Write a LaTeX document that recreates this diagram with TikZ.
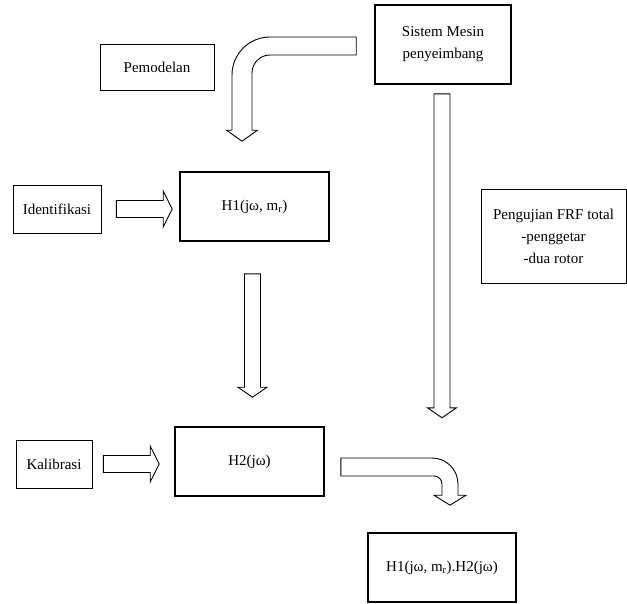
\documentclass[tikz,border=0pt]{standalone}
\usepackage{fontspec}
\setmainfont{Liberation Serif}
\usetikzlibrary{calc}

% hollow block arrows: start of shaft, tip
\newcommand{\hblock}[2]{%
  \draw[blk] let \p1=(#1), \p2=(#2) in
    (\x1,\y1+8.5pt) -- (\x2-9pt,\y1+8.5pt) -- (\x2-9pt,\y1+18pt) -- (\x2,\y1)
    -- (\x2-9pt,\y1-18pt) -- (\x2-9pt,\y1-8.5pt) -- (\x1,\y1-8.5pt) -- cycle;}
\newcommand{\vblock}[2]{%
  \draw[blk] let \p1=(#1), \p2=(#2) in
    (\x1-8pt,\y1) -- (\x1-8pt,\y2+10pt) -- (\x1-14.5pt,\y2+10pt) -- (\x1,\y2)
    -- (\x1+14.5pt,\y2+10pt) -- (\x1+8pt,\y2+10pt) -- (\x1+8pt,\y1) -- cycle;}

\begin{document}
\begin{tikzpicture}[x=1pt, y=-1pt,
    box/.style={rectangle, draw, line width=0.8pt, align=center, inner sep=0pt, font=\fontsize{15}{22}\selectfont},
    thickbox/.style={box, line width=1.6pt},
    blk/.style={draw, line width=0.9pt, fill=white, line join=miter}
]
\useasboundingbox (0,0) rectangle (627,603);

% Boxes
\node[box, minimum width=114pt, minimum height=46pt] (pemo) at (157,67) {Pemodelan};
\node[thickbox, minimum width=136pt, minimum height=79pt] (sist) at (443,44.5) {Sistem Mesin\\penyeimbang};
\node[box, minimum width=88pt, minimum height=48pt] (idf) at (57,209) {Identifikasi};
\node[thickbox, minimum width=149pt, minimum height=69pt] (h1) at (254.5,206.5) {H1(jω, m\textsubscript{r})};
\node[box, minimum width=145pt, minimum height=94pt] (peng) at (553.5,236) {Pengujian FRF total\\-penggetar\\-dua rotor};
\node[box, minimum width=76pt, minimum height=48pt] (kal) at (54,464) {Kalibrasi};
\node[thickbox, minimum width=149pt, minimum height=69pt] (h2) at (249.5,461.5) {H2(jω)};
\node[thickbox, minimum width=148pt, minimum height=69pt] (fin) at (442,567.5) {H1(jω, m\textsubscript{r}).H2(jω)};

% Straight arrows
\hblock{$(idf.east)+(15,0)$}{$(h1.west)+(-7,0)$}
\hblock{$(kal.east)+(11,0)$}{$(h2.west)+(-15,0)$}
\vblock{$(h1.south)+(-2,32)$}{$(h2.north)+(0,-29)$}
\coordinate (s1) at ($(sist.south)+(-1,9)$);
\vblock{s1}{$(s1)+(0,324)$}

% Bent arrows
\draw[blk] let \p1=($(sist.west)+(-18,1.5)$), \p2=($(h1.north)+(-12.5,-30)$) in
  (\x1,\y1+9pt) [rounded corners=38pt] -- (\x2-10pt,\y1+9pt) [sharp corners] -- (\x2-10pt,\y2+11pt)
  -- (\x2-15.5pt,\y2+11pt) -- (\x2,\y2) -- (\x2+15.5pt,\y2+11pt) -- (\x2+10pt,\y2+11pt)
  [rounded corners=18pt] -- (\x2+10pt,\y1-9pt) [sharp corners] -- (\x1,\y1-9pt) -- cycle;
\draw[blk] let \p1=($(h2.east)+(16,5.5)$), \p2=($(fin.north)+(8,-27)$) in
  (\x1,\y1+9pt) [rounded corners=26pt] -- (\x2+8pt,\y1+9pt) [sharp corners] -- (\x2+8pt,\y2+10pt)
  -- (\x2+16pt,\y2+10pt) -- (\x2,\y2) -- (\x2-16pt,\y2+10pt) -- (\x2-8pt,\y2+10pt)
  [rounded corners=8pt] -- (\x2-8pt,\y1-9pt) [sharp corners] -- (\x1,\y1-9pt) -- cycle;
\end{tikzpicture}
\end{document}
